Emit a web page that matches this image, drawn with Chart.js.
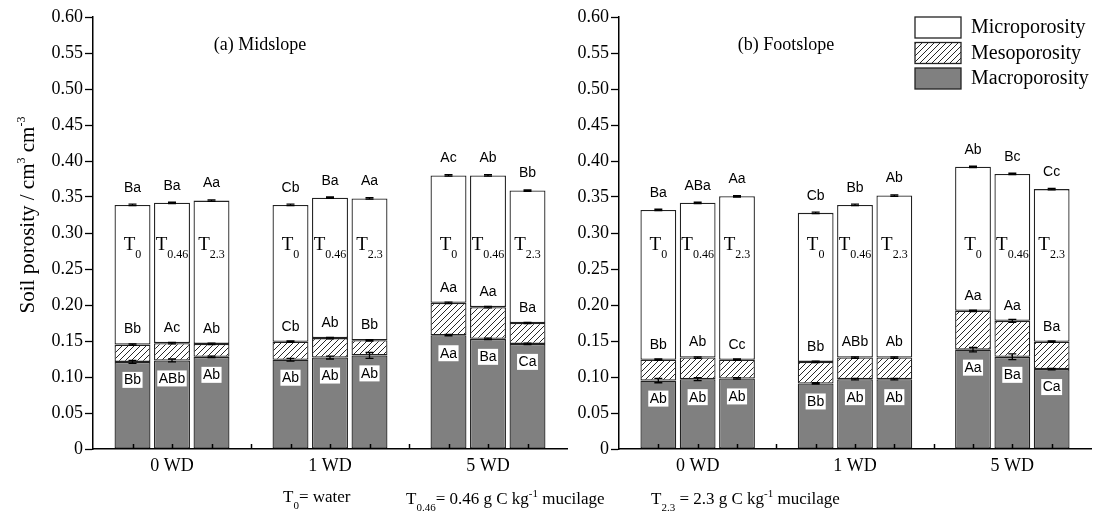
<!DOCTYPE html>
<html>
<head>
<meta charset="utf-8">
<script src="https://cdn.jsdelivr.net/npm/chart.js@4.4.1/dist/chart.umd.min.js"></script>
<style>
html, body { margin: 0; padding: 0; background: #fff; }
#wrap { position: relative; width: 1093px; height: 517px; }
#left { position: absolute; left: 0; top: 0; }
#right { position: absolute; left: 575px; top: 0; }
.note { position: absolute; top: 487px; font-family: "Liberation Serif", "Times New Roman", serif; font-size: 17px; color: #000; white-space: nowrap; }
.note sub { font-size: 11px; vertical-align: -7px; }
.note sup { font-size: 11px; vertical-align: 7px; }
</style>
</head>
<body>
<div id="wrap">
  <canvas id="left" width="575" height="517"></canvas>
  <canvas id="right" width="518" height="517"></canvas>
  <div class="note" style="left:283px">T<sub>0</sub>= water</div>
  <div class="note" style="left:406px">T<sub>0.46</sub>= 0.46 g C kg<sup>-1</sup> mucilage</div>
  <div class="note" style="left:651px">T<sub>2.3</sub> = 2.3 g C kg<sup>-1</sup> mucilage</div>
</div>
<script>
// categories
const groups = ['0 WD', '1 WD', '5 WD']
const treatSub = ['0', '0.46', '2.3']   // T0, T0.46, T2.3 in each group
const seriesNames = ['Macroporosity', 'Mesoporosity', 'Microporosity']

// (a) Midslope, cm3 cm-3, bars in order 0WD T0,T0.46,T2.3 / 1WD ... / 5WD ...
const midMacro = [0.121, 0.123, 0.128, 0.124, 0.127, 0.130, 0.158, 0.153, 0.146]
const midMeso  = [0.024, 0.024, 0.018, 0.025, 0.027, 0.021, 0.045, 0.044, 0.029]
const midMicro = [0.194, 0.195, 0.199, 0.190, 0.195, 0.197, 0.177, 0.183, 0.184]
const midMacroErr = [0.002, 0.002, 0.001, 0.002, 0.002, 0.004, 0.001, 0.001, 0.001]
const midMesoErr  = [0.001, 0.001, 0.001, 0.001, 0.001, 0.001, 0.001, 0.001, 0.001]
const midTotalErr = [0.001, 0.001, 0.001, 0.001, 0.001, 0.001, 0.001, 0.001, 0.001]
const midMacroLet = ['Bb', 'ABb', 'Ab', 'Ab', 'Ab', 'Ab', 'Aa', 'Ba', 'Ca']
const midMesoLet  = ['Bb', 'Ac', 'Ab', 'Cb', 'Ab', 'Bb', 'Aa', 'Aa', 'Ba']
const midTotalLet = ['Ba', 'Ba', 'Aa', 'Cb', 'Ba', 'Aa', 'Ac', 'Ab', 'Bb']

// (b) Footslope
const footMacro = [0.095, 0.097, 0.098, 0.091, 0.097, 0.097, 0.138, 0.128, 0.111]
const footMeso  = [0.029, 0.030, 0.026, 0.030, 0.030, 0.030, 0.054, 0.050, 0.038]
const footMicro = [0.208, 0.215, 0.227, 0.207, 0.212, 0.225, 0.200, 0.204, 0.212]
const footMacroErr = [0.003, 0.002, 0.001, 0.001, 0.001, 0.001, 0.003, 0.004, 0.001]
const footMesoErr  = [0.001, 0.001, 0.001, 0.001, 0.001, 0.001, 0.001, 0.002, 0.001]
const footTotalErr = [0.001, 0.001, 0.001, 0.001, 0.001, 0.001, 0.001, 0.001, 0.001]
const footMacroLet = ['Ab', 'Ab', 'Ab', 'Bb', 'Ab', 'Ab', 'Aa', 'Ba', 'Ca']
const footMesoLet  = ['Bb', 'Ab', 'Cc', 'Bb', 'ABb', 'Ab', 'Aa', 'Aa', 'Ba']
const footTotalLet = ['Ba', 'ABa', 'Aa', 'Cb', 'Bb', 'Ab', 'Ab', 'Bc', 'Cc']

// y axis
const yMin = 0, yMax = 0.6, yStep = 0.05

// 13 slots on the category axis: empty slot, 3 bars, empty slot, 3 bars ...
const slotOf = [1, 2, 3, 5, 6, 7, 9, 10, 11]
const xLabels = Array(13).fill('')
groups.forEach((g, i) => { xLabels[2 + 4 * i] = g })

function toSlots(arr) {
    const out = Array(13).fill(null)
    arr.forEach((v, i) => { out[slotOf[i]] = v })
    return out
}

const serif = '"Liberation Serif", "Times New Roman", serif'
const sans = '"Liberation Sans", Arial, sans-serif'

function hatch() {
    const s = 6
    const c = document.createElement('canvas')
    c.width = s; c.height = s
    const g = c.getContext('2d')
    g.fillStyle = '#fff'
    g.fillRect(0, 0, s, s)
    g.strokeStyle = '#111'
    g.lineWidth = 0.9
    g.beginPath()
    g.moveTo(0, s); g.lineTo(s, 0)
    g.moveTo(-1, 1); g.lineTo(1, -1)
    g.moveTo(s - 1, s + 1); g.lineTo(s + 1, s - 1)
    g.stroke()
    return c.getContext('2d').createPattern(c, 'repeat')
}
const hatchFill = hatch()
const fills = ['#808080', hatchFill, '#ffffff']

function panelPlugin(p) {
    return {
        id: 'panel',
        afterDatasetsDraw(chart) {
            const ctx = chart.ctx
            const xs = chart.scales.x, ys = chart.scales.y
            const area = chart.chartArea
            ctx.save()

            // inward tick marks on the x axis
            ctx.strokeStyle = '#000'
            ctx.lineWidth = 1.5
            for (let s = 1; s <= 11; s++) {
                const px = Math.round(xs.getPixelForValue(s)) + 0.5
                ctx.beginPath()
                ctx.moveTo(px, area.bottom)
                ctx.lineTo(px, area.bottom - 5)
                ctx.stroke()
            }

            const errBar = (cx, v, e) => {
                const y1 = ys.getPixelForValue(v - e), y2 = ys.getPixelForValue(v + e)
                ctx.lineWidth = 1.3
                ctx.beginPath()
                ctx.moveTo(cx, y1); ctx.lineTo(cx, y2)
                ctx.moveTo(cx - 4, y1); ctx.lineTo(cx + 4, y1)
                ctx.moveTo(cx - 4, y2); ctx.lineTo(cx + 4, y2)
                ctx.stroke()
            }

            p.macro.forEach((m, i) => {
                const cx = xs.getPixelForValue(slotOf[i])
                const mesoTop = m + p.meso[i]
                const total = mesoTop + p.micro[i]
                ctx.strokeStyle = '#000'
                errBar(cx, m, p.macroErr[i])
                errBar(cx, mesoTop, p.mesoErr[i])
                errBar(cx, total, p.totalErr[i])

                ctx.fillStyle = '#000'
                ctx.textAlign = 'center'
                ctx.textBaseline = 'middle'
                ctx.font = '14px ' + sans
                ctx.fillText(p.totalLet[i], cx, ys.getPixelForValue(total) - 17)
                ctx.fillText(p.mesoLet[i], cx, ys.getPixelForValue(mesoTop) - 15)

                const my = ys.getPixelForValue(m) + 18
                const w = ctx.measureText(p.macroLet[i]).width + 3
                ctx.fillStyle = '#fff'
                ctx.fillRect(cx - w / 2, my - 8, w, 16)
                ctx.fillStyle = '#000'
                ctx.fillText(p.macroLet[i], cx, my + 0.5)

                // treatment name inside the micro segment
                const sub = treatSub[i % 3]
                const ty = ys.getPixelForValue(0.285)
                ctx.font = '19px ' + serif
                const wT = ctx.measureText('T').width
                ctx.font = '12px ' + serif
                const wS = ctx.measureText(sub).width
                const x0 = cx - (wT + wS) / 2
                ctx.textAlign = 'left'
                ctx.textBaseline = 'alphabetic'
                ctx.font = '19px ' + serif
                ctx.fillText('T', x0, ty + 6)
                ctx.font = '12px ' + serif
                ctx.fillText(sub, x0 + wT, ty + 14)
            })

            // panel title
            ctx.font = '18px ' + serif
            ctx.textAlign = 'center'
            ctx.textBaseline = 'middle'
            ctx.fillStyle = '#000'
            ctx.fillText(p.title, area.left + 167, 45)

            if (p.axisTitle) {
                ctx.save()
                ctx.translate(27, 215)
                ctx.rotate(-Math.PI / 2)
                const parts = [['Soil porosity / cm', 21, 0], ['3', 12, -9], [' cm', 21, 0], ['-3', 12, -9]]
                let tot = 0
                parts.forEach(q => { ctx.font = q[1] + 'px ' + serif; tot += ctx.measureText(q[0]).width })
                let x = -tot / 2
                ctx.textAlign = 'left'
                ctx.textBaseline = 'alphabetic'
                parts.forEach(q => {
                    ctx.font = q[1] + 'px ' + serif
                    ctx.fillText(q[0], x, 7 + q[2])
                    x += ctx.measureText(q[0]).width
                })
                ctx.restore()
            }

            if (p.legend) {
                const lx = area.right - 176
                const tops = [17, 42.5, 68]
                const order = [2, 1, 0]
                order.forEach((k, r) => {
                    ctx.fillStyle = fills[k]
                    ctx.fillRect(lx, tops[r], 46, 21)
                    ctx.strokeStyle = '#222'
                    ctx.lineWidth = 1.3
                    ctx.strokeRect(lx, tops[r], 46, 21)
                    ctx.fillStyle = '#000'
                    ctx.font = '20px ' + serif
                    ctx.textAlign = 'left'
                    ctx.textBaseline = 'middle'
                    ctx.fillText(seriesNames[k], lx + 56, tops[r] + 11)
                })
            }
            ctx.restore()
        }
    }
}

function makePanel(canvas, p, yWidth, padRight) {
    const vals = [p.macro, p.meso, p.micro]
    new Chart(canvas, {
        type: 'bar',
        data: {
            labels: xLabels,
            datasets: vals.map((v, k) => ({
                label: seriesNames[k],
                data: toSlots(v),
                backgroundColor: fills[k],
                borderColor: '#222',
                borderWidth: 1.3,
                borderSkipped: false,
                barPercentage: 0.91,
                categoryPercentage: 1
            }))
        },
        options: {
            responsive: false,
            animation: false,
            layout: { padding: { left: 0, right: padRight, top: 17, bottom: 0 } },
            scales: {
                x: {
                    stacked: true,
                    offset: false,
                    grid: { display: false },
                    border: { color: '#000', width: 1.5, z: 1 },
                    ticks: {
                        autoSkip: false,
                        maxRotation: 0,
                        padding: -2,
                        color: '#000',
                        font: { family: serif, size: 18 }
                    },
                    afterFit: s => { s.height = 68 }
                },
                y: {
                    stacked: true,
                    min: yMin,
                    max: yMax,
                    grid: { drawOnChartArea: false, drawTicks: true, tickLength: 8, tickColor: '#000', tickWidth: 1.3 },
                    border: { color: '#000', width: 1.5, z: 1 },
                    ticks: {
                        stepSize: yStep,
                        padding: 2,
                        color: '#000',
                        font: { family: serif, size: 18 },
                        callback: v => Math.abs(v) < 1e-9 ? '0' : v.toFixed(2)
                    },
                    afterFit: s => { s.width = yWidth }
                }
            },
            plugins: {
                legend: { display: false },
                tooltip: { enabled: false }
            }
        },
        plugins: [panelPlugin(p)]
    })
}

makePanel(document.getElementById('left'), {
    macro: midMacro, meso: midMeso, micro: midMicro,
    macroErr: midMacroErr, mesoErr: midMesoErr, totalErr: midTotalErr,
    macroLet: midMacroLet, mesoLet: midMesoLet, totalLet: midTotalLet,
    title: '(a) Midslope', axisTitle: true, legend: false
}, 93, 8)

makePanel(document.getElementById('right'), {
    macro: footMacro, meso: footMeso, micro: footMicro,
    macroErr: footMacroErr, mesoErr: footMesoErr, totalErr: footTotalErr,
    macroLet: footMacroLet, mesoLet: footMesoLet, totalLet: footTotalLet,
    title: '(b) Footslope', axisTitle: false, legend: true
}, 44, 2)
</script>
</body>
</html>
